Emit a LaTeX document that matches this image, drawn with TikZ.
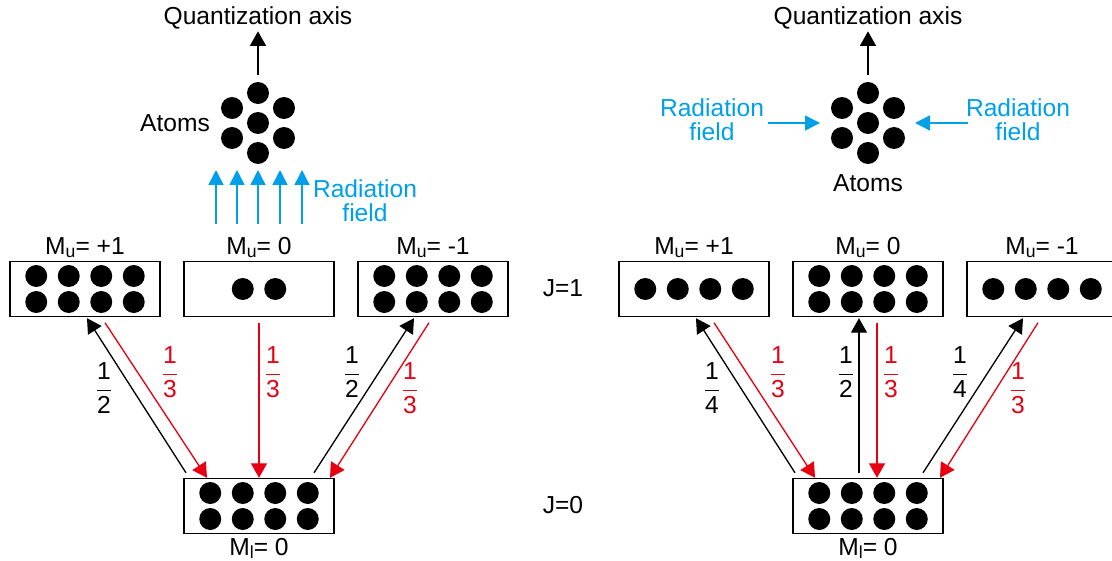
\documentclass[tikz,border=0pt]{standalone}
\usepackage{fontspec}
\setmainfont{Liberation Sans}
\usetikzlibrary{arrows.meta, positioning}

\definecolor{fieldblue}{RGB}{0,160,233}
\definecolor{decayred}{RGB}{230,0,18}
\newcommand{\lowsub}[1]{\raisebox{-1.7pt}{\fontsize{10}{10}\selectfont #1}}
\newcommand{\lvfrac}[2]{$\displaystyle\frac{\mbox{#1}}{\mbox{#2}}$}

\begin{document}
\begin{tikzpicture}[x=0.02cm, y=-0.02cm,
    font=\fontsize{14}{13.5}\selectfont,
    level/.style={rectangle, draw, line width=0.8pt, minimum width=3cm, minimum height=1.1cm, inner sep=0pt},
    mlabel/.style={inner sep=0pt},
    absorb/.style={-{Triangle[length=0.29cm, width=0.32cm]}, line width=0.75pt},
    emit/.style={absorb, decayred},
    beam/.style={-{Triangle[length=0.3cm, width=0.3cm]}, line width=0.8pt, fieldblue},
    ratio/.style={inner sep=0pt},
]
\useasboundingbox (0,0) rectangle (1112,561);

% left: field along the quantization axis
\coordinate (atomsL) at (258,123);
\node[inner sep=1pt] (qaxL) at (258,18) {Quantization axis};
\node (atomsTxtL) at (175,123) {Atoms};
\node[fieldblue, align=center, inner sep=0pt] (radL) at (365,201) {Radiation\\field};
\fill (atomsL) circle (0.22cm);
\foreach \a in {30,90,...,330}
    \fill (atomsL) ++(\a:0.6cm) circle (0.22cm);
\draw[absorb] ([shift={(0,-48)}]atomsL) -- (qaxL.south);
\foreach \x [count=\n] in {216,237,258,280,302} {
    \coordinate (beamTail\n) at (\x,224);
    \coordinate (beamHead\n) at (\x,170);
    \draw[beam] (beamTail\n) -- (beamHead\n);
}

\node[level] (pL) at (85,289) {};
\node[level] (zL) at (259,289) {};
\node[level] (mL) at (433,289) {};
\node[level] (gL) at (259,506) {};
\node[mlabel, above=0.05cm of pL] (pLtxt) {M\lowsub{u}= +1};
\node[mlabel, above=0.05cm of zL] (zLtxt) {M\lowsub{u}= 0};
\node[mlabel, above=0.05cm of mL] (mLtxt) {M\lowsub{u}= -1};
\node[mlabel, below=0.08cm of gL] (gLtxt) {M\lowsub{l}= 0};

% populations
\foreach \b in {pL, mL, gL}
    \foreach \i in {-1.5,-0.5,0.5,1.5}
        \foreach \j in {-13,13}
            \fill ([shift={(\i*32.5,\j)}]\b.center) circle (0.22cm);
\foreach \i in {-0.5,0.5}
    \fill ([shift={(\i*32.5,0)}]zL.center) circle (0.22cm);

\draw[absorb] ([shift={(-73,-5)}]gL.north) -- ([shift={(2,1)}]pL.south);
\draw[emit] ([shift={(20,5.5)}]pL.south) -- ([shift={(-52,0)}]gL.north);
\draw[emit] ([shift={(0,5.5)}]zL.south) -- (gL.north);
\draw[absorb] ([shift={(55,-5)}]gL.north) -- ([shift={(-19,1)}]mL.south);
\draw[emit] ([shift={(-4,5.5)}]mL.south) -- ([shift={(71,0)}]gL.north);

\node[ratio] (fa) at (104,388) {\lvfrac{1}{2}};
\node[ratio, text=decayred] (fb) at (170,372) {\lvfrac{1}{3}};
\node[ratio, text=decayred] (fc) at (273,372) {\lvfrac{1}{3}};
\node[ratio] (fd) at (352,372) {\lvfrac{1}{2}};
\node[ratio, text=decayred] (fe) at (410,388) {\lvfrac{1}{3}};

\node (jup) at (563,288) {J=1};
\node (jlow) at (563,505) {J=0};

% right: field from both sides
\coordinate (atomsR) at (868,123);
\node[inner sep=1pt] (qaxR) at (868,18) {Quantization axis};
\node (atomsTxtR) at (868,183) {Atoms};
\node[fieldblue, align=center, inner sep=0pt] (radRL) at (712,120) {Radiation\\field};
\node[fieldblue, align=center, inner sep=0pt] (radRR) at (1018,120) {Radiation\\field};
\fill (atomsR) circle (0.22cm);
\foreach \a in {30,90,...,330}
    \fill (atomsR) ++(\a:0.6cm) circle (0.22cm);
\draw[absorb] ([shift={(0,-48)}]atomsR) -- (qaxR.south);
\coordinate (beamW) at (768,123);
\coordinate (beamE) at (968,123);
\draw[beam] (beamW) -- ([shift={(-48,0)}]atomsR);
\draw[beam] (beamE) -- ([shift={(47,0)}]atomsR);

\node[level] (pR) at (694,289) {};
\node[level] (zR) at (868,289) {};
\node[level] (mR) at (1042,289) {};
\node[level] (gR) at (868,506) {};
\node[mlabel, above=0.05cm of pR] (pRtxt) {M\lowsub{u}= +1};
\node[mlabel, above=0.05cm of zR] (zRtxt) {M\lowsub{u}= 0};
\node[mlabel, above=0.05cm of mR] (mRtxt) {M\lowsub{u}= -1};
\node[mlabel, below=0.08cm of gR] (gRtxt) {M\lowsub{l}= 0};

\foreach \b in {zR, gR}
    \foreach \i in {-1.5,-0.5,0.5,1.5}
        \foreach \j in {-13,13}
            \fill ([shift={(\i*32.5,\j)}]\b.center) circle (0.22cm);
\foreach \b in {pR, mR}
    \foreach \i in {-1.5,-0.5,0.5,1.5}
        \fill ([shift={(\i*32.5,0)}]\b.center) circle (0.22cm);

\draw[absorb] ([shift={(-73,-5)}]gR.north) -- ([shift={(2,1)}]pR.south);
\draw[emit] ([shift={(20,5.5)}]pR.south) -- ([shift={(-53,0)}]gR.north);
\draw[absorb] ([shift={(-9,-5)}]gR.north) -- ([shift={(-9,1)}]zR.south);
\draw[emit] ([shift={(9,5.5)}]zR.south) -- ([shift={(9,0)}]gR.north);
\draw[absorb] ([shift={(55,-5)}]gR.north) -- ([shift={(-19,1)}]mR.south);
\draw[emit] ([shift={(-4,5.5)}]mR.south) -- ([shift={(72,0)}]gR.north);

\node[ratio] (ga) at (712,388) {\lvfrac{1}{4}};
\node[ratio, text=decayred] (gb) at (778,372) {\lvfrac{1}{3}};
\node[ratio] (gc) at (846,372) {\lvfrac{1}{2}};
\node[ratio, text=decayred] (gd) at (891,372) {\lvfrac{1}{3}};
\node[ratio] (ge) at (960,372) {\lvfrac{1}{4}};
\node[ratio, text=decayred] (gf) at (1018,388) {\lvfrac{1}{3}};

\end{tikzpicture}
\end{document}
